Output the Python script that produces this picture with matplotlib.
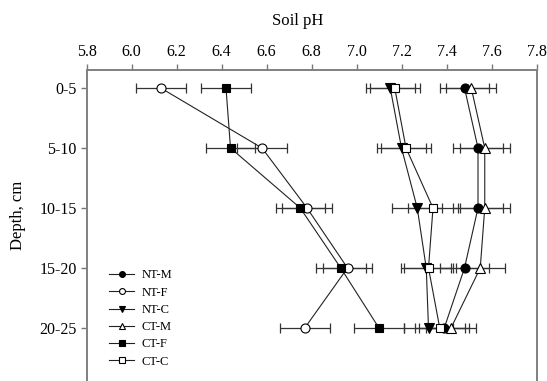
import matplotlib
matplotlib.use("Agg")
import matplotlib.pyplot as plt
import numpy as np

plt.rcParams['font.family'] = ['Liberation Serif', 'DejaVu Serif']

depths = ["0-5", "5-10", "10-15", "15-20", "20-25"]
x_ticks = [5.8, 6.0, 6.2, 6.4, 6.6, 6.8, 7.0, 7.2, 7.4, 7.6, 7.8]

nt_m = [7.48, 7.54, 7.54, 7.48, 7.39]
nt_f = [6.13, 6.58, 6.78, 6.96, 6.77]
nt_c = [7.15, 7.20, 7.27, 7.31, 7.32]
ct_m = [7.51, 7.57, 7.57, 7.55, 7.42]
ct_f = [6.42, 6.44, 6.75, 6.93, 7.10]
ct_c = [7.17, 7.22, 7.34, 7.32, 7.37]
err = 0.11

series = [
    ("NT-M", nt_m, 'o', 'black'),
    ("NT-F", nt_f, 'o', 'white'),
    ("NT-C", nt_c, 'v', 'black'),
    ("CT-M", ct_m, '^', 'white'),
    ("CT-F", ct_f, 's', 'black'),
    ("CT-C", ct_c, 's', 'white'),
]

fig = plt.figure(figsize=(5.47, 3.81), dpi=100)
ax = fig.add_axes([86.5 / 547, 0.0, 450 / 547, 311 / 381])

y = np.arange(len(depths))
handles = []
for name, vals, mk, fc in series:
    ax.errorbar(vals, y, xerr=err, fmt='none', ecolor='#333333', elinewidth=0.9,
                capsize=3.5, capthick=0.9, zorder=2)
    h, = ax.plot(vals, y, '-', color='#222222', lw=0.8, marker=mk, mfc=fc, mec='black',
                 mew=0.8, ms=6.5 if mk != 's' else 6, zorder=3, label=name)
    handles.append(h)

ax.set_xlim(5.8, 7.8)
ax.set_ylim(-0.3 + 311 / 60, -0.3)
ax.set_yticks(y)
ax.set_yticklabels(depths, fontsize=11.5)
ax.set_xticks(x_ticks)
ax.set_xticklabels([f"{t:.1f}" for t in x_ticks], fontsize=11.5)
ax.xaxis.tick_top()
ax.xaxis.set_label_position('top')
ax.set_xlabel("Soil pH", fontsize=12, labelpad=14)
ax.xaxis.label.set_x((298 - 86.5) / 450)
ax.set_ylabel("Depth, cm", fontsize=12, labelpad=10)
ax.yaxis.label.set_y((381 - 215) / 311)
ax.tick_params(axis='both', direction='out', length=4, width=1, color='#777777', pad=3)

for s in ['top', 'left', 'right']:
    ax.spines[s].set_color('#808080')
    ax.spines[s].set_linewidth(1.4)
ax.spines['bottom'].set_visible(False)

leg = ax.legend(handles=handles, loc='upper left', bbox_to_anchor=(0.025, 0.395),
                frameon=False, fontsize=9, handlelength=2.0, handletextpad=0.6,
                labelspacing=0.42, markerscale=0.65)

fig.savefig("out.png", dpi=100)
